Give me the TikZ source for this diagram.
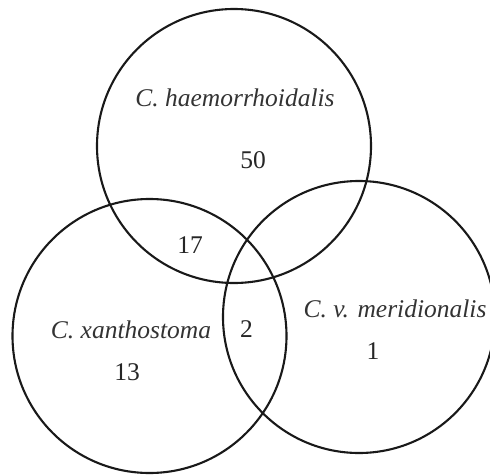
\documentclass[tikz,border=0pt]{standalone}
\usepackage{fontspec}
\setmainfont{Liberation Serif}
\begin{document}
\begin{tikzpicture}[x=1pt,y=-1pt,
  ring/.style={draw=black!90, line width=2.1pt, circle, minimum size=#1, inner sep=0pt},
  lbl/.style={font=\fontsize{25.5}{30}\selectfont\itshape, text=black!80, anchor=base, inner sep=0pt},
  num/.style={font=\fontsize{25.5}{30}\selectfont, text=black!85, anchor=base, inner sep=0pt}]
\useasboundingbox (0,0) rectangle (490,474);
\node[ring=274pt] (top) at (234,146) {};
\node[ring=274pt] (left) at (149.5,336) {};
\node[ring=272pt] (right) at (359,317) {};
\node[lbl] (lh) at (235,106) {C. haemorrhoidalis};
\node[lbl] (lx) at (131,338) {C. xanthostoma};
\node[lbl] (lm) at (395,317) {C. v. meridionalis};
\node[num] (n50) at (253,168.5) {50};
\node[num] (n17) at (190,253.5) {17};
\node[num] (n13) at (127,380.5) {13};
\node[num] (n2) at (246.5,337) {2};
\node[num] (n1) at (373,359) {1};
\end{tikzpicture}
\end{document}
